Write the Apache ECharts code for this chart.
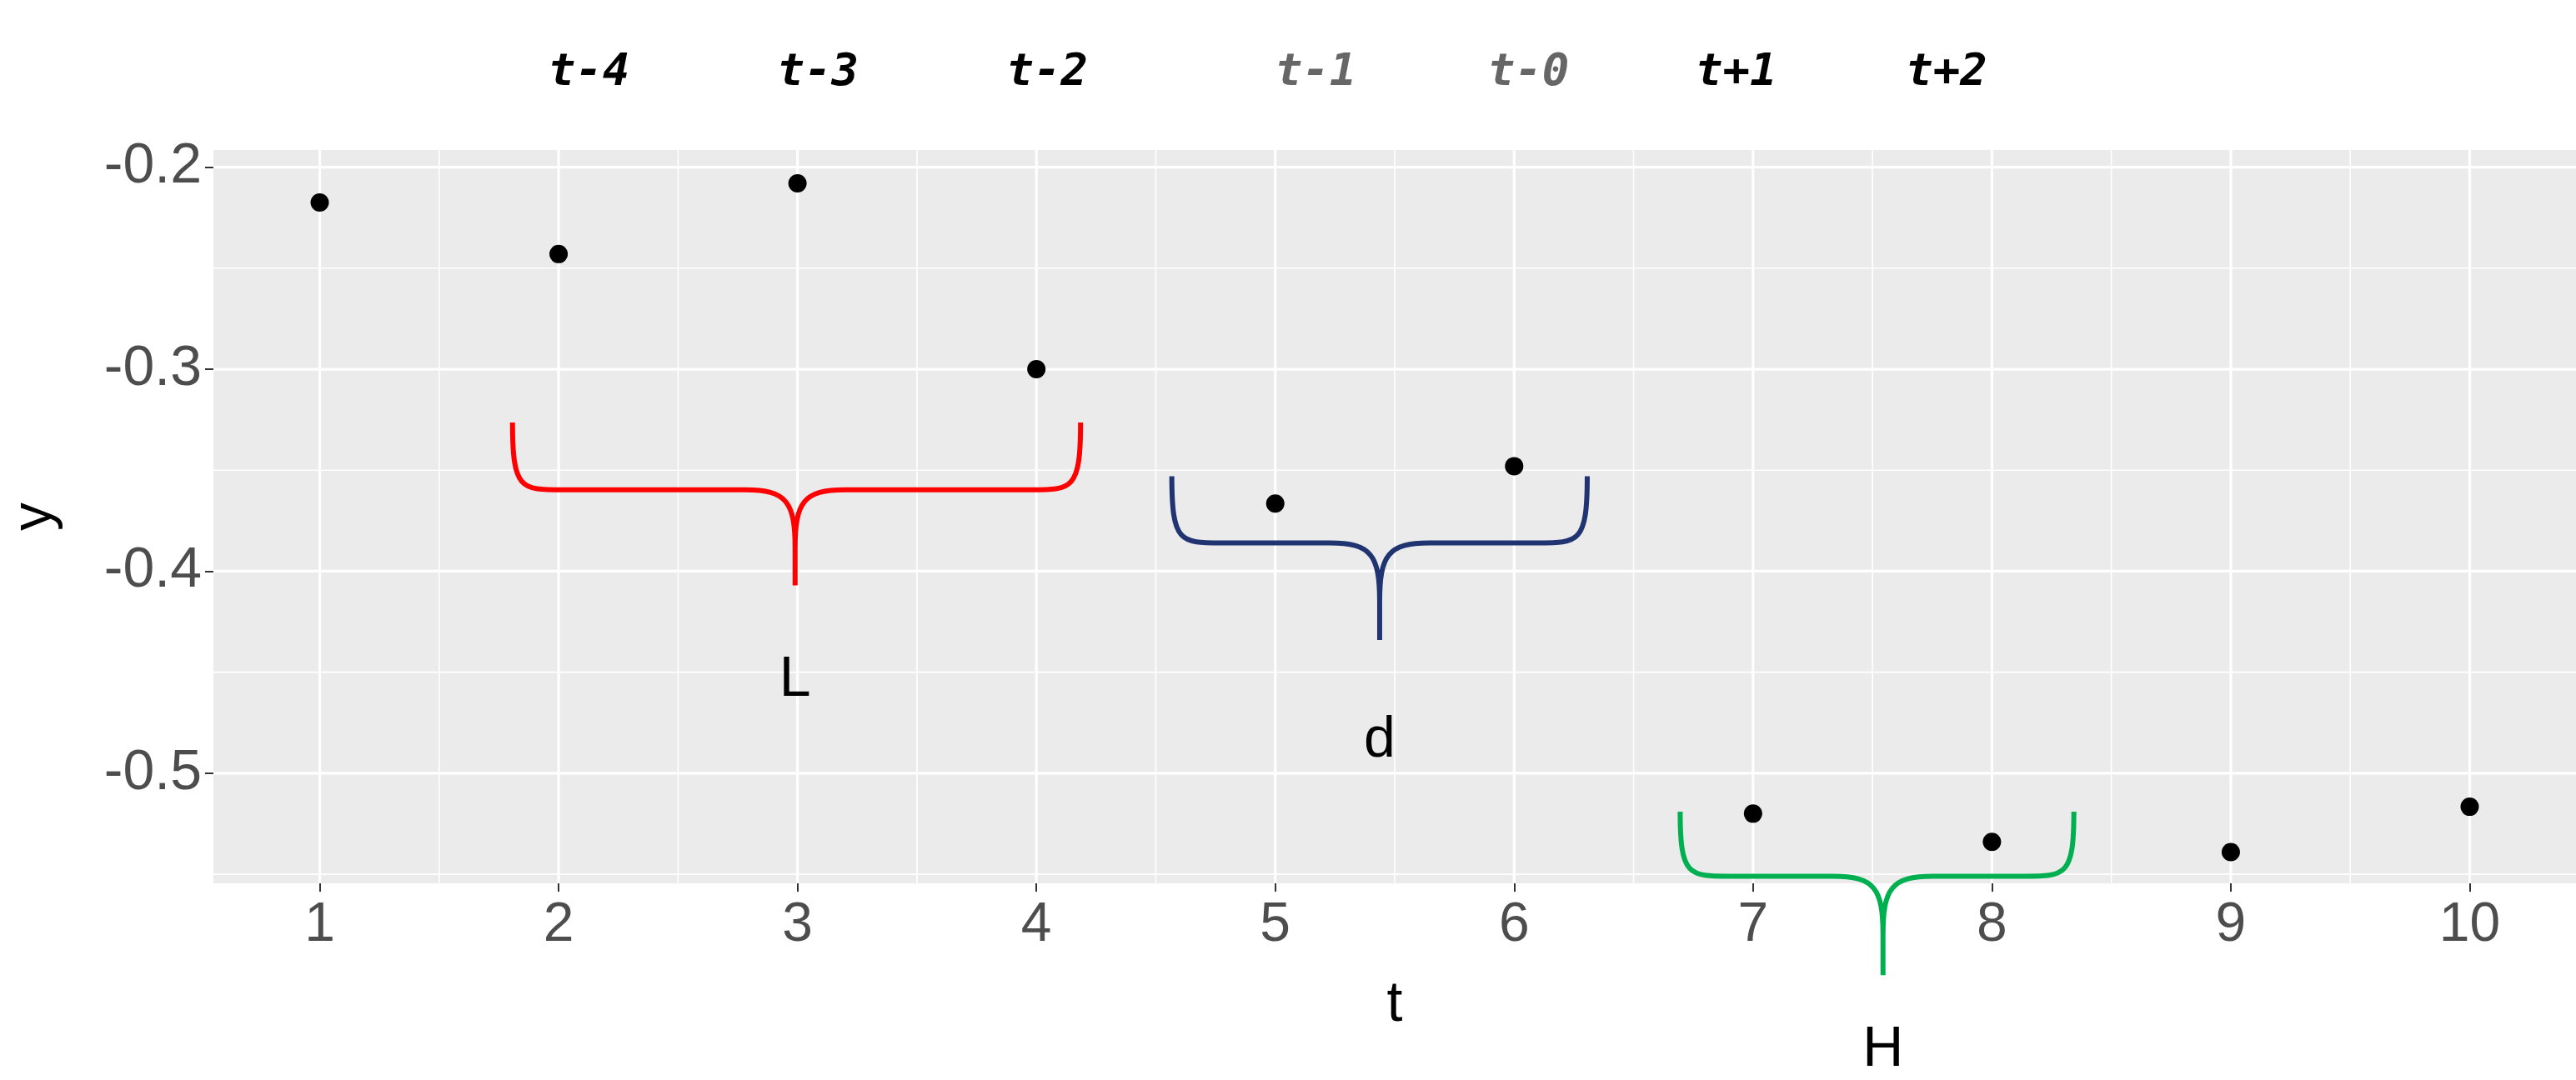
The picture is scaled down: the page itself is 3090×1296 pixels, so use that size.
<!DOCTYPE html>
<html><head><meta charset="utf-8">
<script src="https://cdn.jsdelivr.net/npm/echarts@6/dist/echarts.min.js"></script>
<style>html,body{margin:0;padding:0;background:#fff}#c{width:3090px;height:1296px}</style>
</head><body><div id="c"></div>
<script>
const tValues = [1,2,3,4,5,6,7,8,9,10];
const yValues = [-0.2175,-0.243,-0.208,-0.300,-0.3665,-0.348,-0.520,-0.534,-0.539,-0.5166];
const xTicks = [1,2,3,4,5,6,7,8,9,10];
const xMinor = [1.5,2.5,3.5,4.5,5.5,6.5,7.5,8.5,9.5];
const yTicks = [-0.5,-0.4,-0.3,-0.2];
const yMinor = [-0.55,-0.45,-0.35,-0.25];
const topLabels = ['t-4','t-3','t-2','t-1','t-0','t+1','t+2'];
const topLabelX = [2.127,3.086,4.046,5.17,6.06,6.93,7.81];
const topLabelColor = ['#000','#000','#000','#666','#666','#000','#000'];
// braces: [xLeft, xRight, xCenter, yTip, yBar, yPoint, label, yLabel, color]
const braces = [
  [1.807,4.185,2.99,-0.3264,-0.3597,-0.407,'L',-0.454,'#ff0000'],
  [4.567,6.306,5.437,-0.353,-0.386,-0.434,'d',-0.484,'#1f3470'],
  [6.695,8.343,7.544,-0.519,-0.551,-0.600,'H',-0.637,'#00b050']
];
const xMin=0.555,xMax=10.445,yMin=-0.5545,yMax=-0.1915;
const gridData = [];
xMinor.forEach(v=>gridData.push([0,v,1.6]));
yMinor.forEach(v=>gridData.push([1,v,1.6]));
xTicks.forEach(v=>gridData.push([0,v,3.2]));
yTicks.forEach(v=>gridData.push([1,v,3.2]));

const chart = echarts.init(document.getElementById('c'));
chart.setOption({
  animation:false,
  grid:{left:246,right:0,top:180,bottom:236,show:true,backgroundColor:'#EBEBEB',borderWidth:0},
  xAxis:{type:'value',min:xMin,max:xMax,name:'t',nameLocation:'middle',nameGap:112,
    nameTextStyle:{fontSize:68,color:'#000',fontFamily:'Liberation Sans'},
    axisLine:{show:false},splitLine:{show:false},
    axisTick:{show:true,length:10,lineStyle:{color:'#333',width:2},customValues:xTicks},
    axisLabel:{fontSize:66,color:'#4D4D4D',margin:18,fontFamily:'Liberation Sans',customValues:xTicks}},
  yAxis:{type:'value',min:yMin,max:yMax,name:'y',nameLocation:'middle',nameGap:180,
    nameTextStyle:{fontSize:68,color:'#000',fontFamily:'Liberation Sans'},
    axisLine:{show:false},splitLine:{show:false},
    axisTick:{show:true,length:10,lineStyle:{color:'#333',width:2},customValues:yTicks},
    axisLabel:{fontSize:68,color:'#4D4D4D',margin:14,fontFamily:'Liberation Sans',customValues:yTicks,
      formatter:v=>v.toFixed(1)}},
  series:[
    {type:'custom',silent:true,z:1,data:gridData,renderItem:(p,api)=>{
      const k=api.value(0),v=api.value(1),w=api.value(2);
      let a,b;
      if(k===0){a=api.coord([v,yMin]);b=api.coord([v,yMax]);}
      else{a=api.coord([xMin,v]);b=api.coord([xMax,v]);}
      return {type:'line',shape:{x1:a[0],y1:a[1],x2:b[0],y2:b[1]},style:{stroke:'#fff',lineWidth:w}};
    }},
    {type:'scatter',z:5,symbol:'circle',symbolSize:22,itemStyle:{color:'#000',opacity:1},
      data:tValues.map((t,i)=>[t,yValues[i]])},
    {type:'custom',silent:true,z:6,clip:false,data:braces.map((b,i)=>[i]),renderItem:(p,api)=>{
      const b=braces[api.value(0)];
      const L=api.coord([b[0],b[3]]),R=api.coord([b[1],b[3]]);
      const yb=api.coord([b[2],b[4]])[1],xc=api.coord([b[2],b[4]])[0],yp=api.coord([b[2],b[5]])[1];
      const r=60;
      const d=`M${L[0]},${L[1]} C${L[0]},${yb} ${L[0]+10},${yb} ${L[0]+r},${yb} L${xc-r},${yb} C${xc-10},${yb} ${xc},${yb+15} ${xc},${yb+70} L${xc},${yp} M${xc},${yb+70} C${xc},${yb+15} ${xc+10},${yb} ${xc+r},${yb} L${R[0]-r},${yb} C${R[0]-10},${yb} ${R[0]},${yb} ${R[0]},${R[1]}`;
      const lp=api.coord([b[2],b[7]]);
      return {type:'group',children:[
        {type:'path',shape:{pathData:d},style:{stroke:b[8],lineWidth:6,fill:null}},
        {type:'text',x:lp[0],y:lp[1],style:{text:b[6],fontSize:68,fill:'#000',fontFamily:'Liberation Sans',align:'center',verticalAlign:'middle'}}
      ]};
    }},
    {type:'custom',silent:true,z:6,clip:false,data:topLabels.map((s,i)=>[i]),renderItem:(p,api)=>{
      const i=api.value(0);const c=api.coord([topLabelX[i],-0.1535]);
      return {type:'text',x:c[0],y:c[1],style:{text:topLabels[i],fontSize:54,fontWeight:'bold',fontStyle:'italic',
        fontFamily:'DejaVu Sans Mono',fill:topLabelColor[i],align:'center',verticalAlign:'middle'}};
    }}
  ]
});
</script></body></html>
